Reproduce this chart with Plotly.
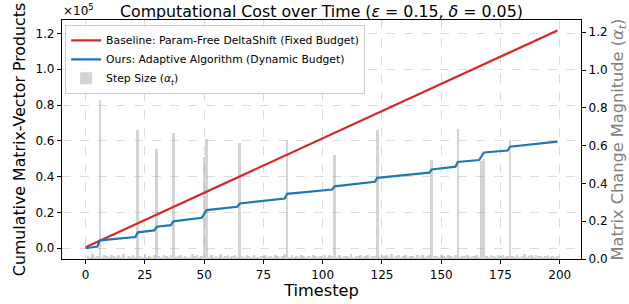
import plotly.graph_objects as go

# ---------------- data ----------------
timesteps = list(range(200))

step_size = [
    0.000, 0.018, 0.012, 0.025, 0.009, 0.015, 0.843, 0.011, 0.020, 0.014, 0.008, 0.022, 0.016, 0.010, 0.019, 0.013, 0.024, 0.007, 0.017, 0.012,
    0.021, 0.009, 0.683, 0.015, 0.011, 0.026, 0.013, 0.018, 0.008, 0.020, 0.580, 0.014, 0.010, 0.023, 0.016, 0.012, 0.019, 0.667, 0.009, 0.015,
    0.022, 0.011, 0.017, 0.013, 0.008, 0.025, 0.014, 0.019, 0.010, 0.016, 0.540, 0.635, 0.012, 0.020, 0.009, 0.018, 0.013, 0.024, 0.011, 0.015,
    0.019, 0.010, 0.016, 0.021, 0.012, 0.615, 0.014, 0.009, 0.023, 0.017, 0.011, 0.020, 0.013, 0.008, 0.018, 0.015, 0.022, 0.010, 0.016, 0.012,
    0.020, 0.014, 0.009, 0.017, 0.024, 0.630, 0.011, 0.019, 0.013, 0.016, 0.010, 0.022, 0.015, 0.008, 0.018, 0.012, 0.021, 0.014, 0.010, 0.017,
    0.013, 0.019, 0.011, 0.023, 0.016, 0.550, 0.012, 0.020, 0.009, 0.015, 0.018, 0.013, 0.025, 0.010, 0.017, 0.014, 0.021, 0.011, 0.016, 0.019,
    0.012, 0.018, 0.014, 0.683, 0.010, 0.022, 0.015, 0.019, 0.011, 0.024, 0.013, 0.017, 0.020, 0.009, 0.016, 0.021, 0.012, 0.018, 0.014, 0.010,
    0.019, 0.013, 0.023, 0.011, 0.016, 0.020, 0.523, 0.014, 0.018, 0.010, 0.022, 0.015, 0.012, 0.019, 0.017, 0.013, 0.021, 0.688, 0.011, 0.016,
    0.014, 0.020, 0.012, 0.018, 0.015, 0.023, 0.010, 0.520, 0.530, 0.017, 0.013, 0.021, 0.016, 0.011, 0.019, 0.014, 0.022, 0.012, 0.018, 0.630,
    0.015, 0.011, 0.020, 0.013, 0.017, 0.024, 0.010, 0.016, 0.019, 0.012, 0.021, 0.014, 0.018, 0.009, 0.015, 0.020, 0.013, 0.017, 0.011, 0.016,
]

baseline_t = [0, 199]
baseline_cost = [608, 121600]

ours_t = [0, 5, 6, 21, 22, 29, 30, 36, 37, 49, 51, 64, 65, 84, 85, 104, 105,
          122, 123, 145, 146, 156, 157, 166, 168, 178, 179, 199]
ours_cost = [0, 940, 4400, 6300, 8900, 10000, 12000, 12900, 15000, 17000, 21300,
             23200, 25000, 27800, 30400, 32800, 34600, 37100, 39300, 42200, 44000,
             45600, 48200, 49300, 53500, 54600, 56700, 59600]

x_ticks = [0, 25, 50, 75, 100, 125, 150, 175, 200]
left_ticks = [0, 20000, 40000, 60000, 80000, 100000, 120000]
left_tick_text = ["0.0", "0.2", "0.4", "0.6", "0.8", "1.0", "1.2"]
right_ticks = [0.0, 0.2, 0.4, 0.6, 0.8, 1.0, 1.2]

# ---------------- figure ----------------
FONT = "DejaVu Sans"
LABEL_SIZE = 16.2
fig = go.Figure()

fig.add_trace(go.Bar(
    x=timesteps, y=step_size, width=1.1,
    marker=dict(color="rgba(160,160,160,0.45)", line=dict(width=0)),
    name="Step Size (<i>α<sub>t</sub></i>)", yaxis="y", legendrank=3,
))
fig.add_trace(go.Scatter(
    x=baseline_t, y=baseline_cost, mode="lines",
    line=dict(color="#d62728", width=2.2),
    name="Baseline: Param-Free DeltaShift (Fixed Budget)", yaxis="y2", legendrank=1,
))
fig.add_trace(go.Scatter(
    x=ours_t, y=ours_cost, mode="lines",
    line=dict(color="#1f77b4", width=2.2),
    name="Ours: Adaptive Algorithm (Dynamic Budget)", yaxis="y2", legendrank=2,
))

axis_common = dict(
    showline=True, linecolor="black", linewidth=1.2,
    ticks="outside", ticklen=4, tickwidth=1, tickcolor="black",
    tickfont=dict(family=FONT, size=12, color="black"),
    zeroline=False, automargin=False,
)

fig.update_layout(
    width=629, height=304,
    margin=dict(l=62, r=48, t=20, b=45),
    paper_bgcolor="white", plot_bgcolor="white",
    font=dict(family=FONT, color="black"),
    bargap=0,
    title=dict(
        text="Computational Cost over Time (<i>ε</i> = 0.15, <i>δ</i> = 0.05)",
        x=0.511, xanchor="center", yref="container", y=0.962, yanchor="middle",
        font=dict(family=FONT, size=15.8, color="black"),
    ),
    xaxis=dict(
        range=[-9.95, 208.95], tickvals=x_ticks, mirror=True,
        showgrid=True, gridcolor="#dcdcdc", griddash="dash", gridwidth=0.8,
        title=dict(text="Timestep", font=dict(family=FONT, size=LABEL_SIZE), standoff=1),
        **axis_common,
    ),
    yaxis=dict(
        side="right", range=[0, 1.265], tickvals=right_ticks, tickformat=".1f",
        showgrid=False,
        title=dict(text="Matrix Change Magnitude (<i>α<sub>t</sub></i>)",
                   font=dict(family=FONT, size=LABEL_SIZE, color="#808080"), standoff=3),
        **axis_common,
    ),
    yaxis2=dict(
        side="left", overlaying="y", range=[-6000, 127500],
        tickvals=left_ticks, ticktext=left_tick_text,
        showgrid=True, gridcolor="#dcdcdc", griddash="dash", gridwidth=0.8,
        title=dict(text="Cumulative Matrix-Vector Products",
                   font=dict(family=FONT, size=15.8), standoff=5),
        **axis_common,
    ),
    legend=dict(
        x=0.006, y=0.98, xanchor="left", yanchor="top",
        bgcolor="rgba(255,255,255,0.85)", bordercolor="#cccccc", borderwidth=1,
        font=dict(family=FONT, size=10.8, color="black"),
        tracegroupgap=0, itemwidth=30,
    ),
    annotations=[dict(
        text="×10<sup>5</sup>", xref="paper", yref="paper", x=-0.002, y=1.0,
        xanchor="left", yanchor="bottom", showarrow=False,
        font=dict(family=FONT, size=12, color="black"),
    )],
)

fig.write_html("out.html", config={"displayModeBar": False},
               post_script="document.body.style.margin='0';")
